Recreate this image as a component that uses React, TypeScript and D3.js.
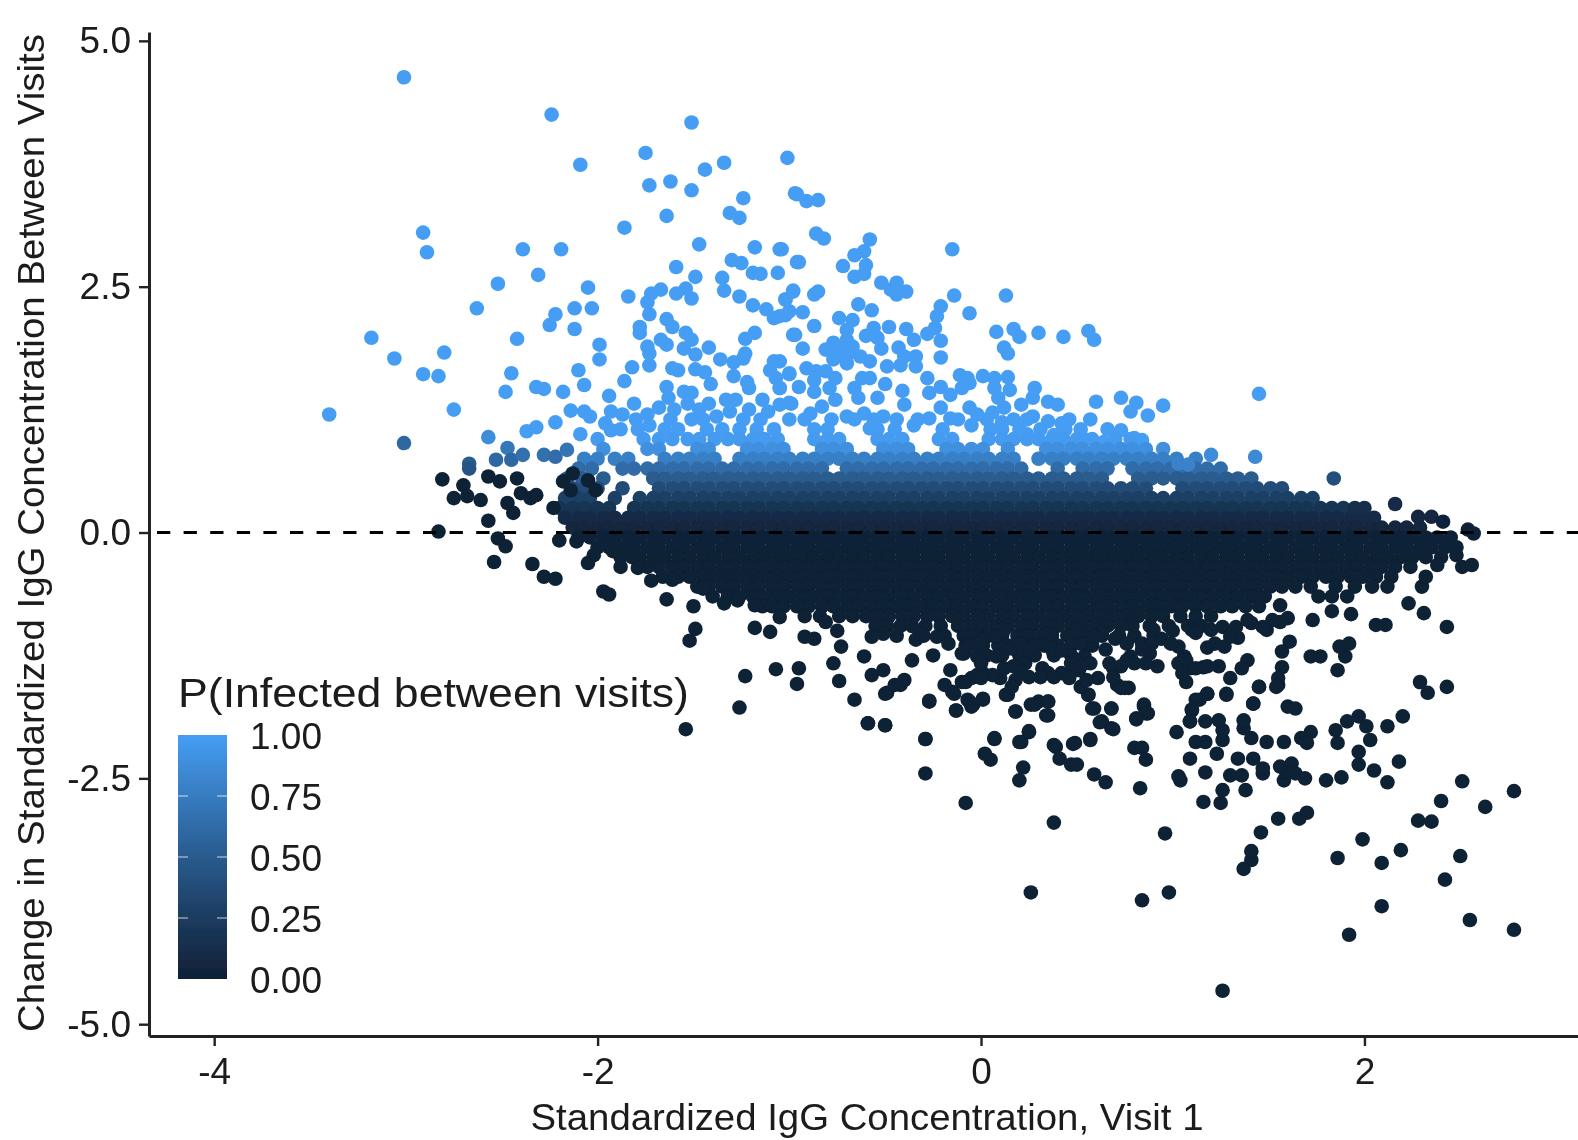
import { useEffect, useRef } from 'react';
import * as d3 from 'd3';

const FONT = '"Liberation Sans", Arial, sans-serif';

const xTicks = [-4, -2, 0, 2];
const yTicks = [-5, -2.5, 0, 2.5, 5];
const legendTicks = [0, 0.25, 0.5, 0.75, 1];
const xTitle = 'Standardized IgG Concentration, Visit 1';
const yTitle = 'Change in Standardized IgG Concentration Between Visits';
const legendTitle = 'P(Infected between visits)';

// points above the dense band, P close to 1
const upperPoints = [
  [-3.01,4.63],[-2.24,4.25],[-1.51,4.17],[-2.09,3.74],[-1.75,3.86],[-1.44,3.69],[-1.34,3.76],[-1.01,3.81],[-1.73,3.53],[-1.62,3.57],
  [-1.51,3.48],[-.97,3.45],[-1.24,3.40],[-1.31,3.25],[-1.26,3.20],[-1.64,3.22],[-1.86,3.10],[-2.91,3.05],[-2.89,2.85],[-2.39,2.88],
  [-2.19,2.88],[-1.47,2.93],[-1.18,2.90],[-1.05,2.88],[-.96,2.75],[-1.59,2.70],[-2.31,2.62],[-2.52,2.53],[-1.30,2.77],[-1.25,2.74],
  [-1.35,2.59],[-1.34,2.46],[-1.19,2.64],[-1.15,2.63],[-1.06,2.64],[-1.49,2.60],[-1.54,2.48],[-1.59,2.43],[-1.51,2.38],[-1.67,2.47],
  [-1.72,2.43],[-1.74,2.34],[-1.73,2.22],[-2.05,2.49],[-1.84,2.40],[-1.26,2.40],[-1.19,2.31],[-1.12,2.27],[-1.08,2.18],[-1.02,2.21],
  [-.98,2.46],[-1.02,2.37],[-2.12,2.28],[-2.03,2.28],[-2.22,2.22],[-2.25,2.11],[-2.12,2.07],[-2.63,2.28],[-3.18,1.98],[-3.06,1.77],
  [-2.80,1.83],[-2.91,1.61],[-2.83,1.59],[-2.42,1.97],[-1.99,1.91],[-1.99,1.76],[-1.78,2.09],[-1.78,2.03],[-1.64,2.17],[-1.61,2.09],
  [-1.54,2.03],[-1.51,1.96],[-1.67,1.96],[-1.64,1.91],[-1.74,1.89],[-1.73,1.82],[-1.73,1.70],[-1.55,1.87],[-1.49,1.81],[-1.42,1.88],
  [-1.36,1.76],[-1.29,1.73],[-1.24,1.77],[-1.23,1.82],[-1.23,1.97],[-1.18,2.03],[-.98,2.01],[-1.82,1.68],[-1.86,1.54],[-2.10,1.65],
  [-2.45,1.62],[-2.07,1.50],[-2.48,1.43],[-2.32,1.48],[-2.28,1.46],[-2.18,1.43],[-1.94,1.39],[-1.61,1.67],[-1.58,1.65],[-1.49,1.66],
  [-1.44,1.63],[-1.41,1.51],[-1.29,1.59],[-1.22,1.53],[-1.21,1.47],[-1.08,1.74],[-1.10,1.65],[-1.07,1.57],[-1.05,1.47],[-1.00,1.62],
  [-1.64,1.48],[-1.63,1.37],[-1.68,1.27],[-1.60,1.25],[-1.55,1.43],[-1.51,1.42],[-1.53,1.31],[-1.14,1.35],[-1.11,1.23],[-1.21,1.25],
  [-1.05,1.30],[-.99,1.31],[-1.81,1.31],[-1.87,1.20],[-1.93,1.23],[-1.74,1.20],[-1.73,1.09],[-1.96,1.11],[-1.93,1.04],[-1.42,1.31],
  [-1.33,1.35],[-1.28,1.35],[-1.47,1.25],[-1.51,1.15],[-1.38,1.18],[-1.31,1.23],[-2.14,1.24],[-2.07,1.23],[-2.04,1.18],[-2.75,1.25],
  [-3.40,1.20],[-2.22,1.12],[-2.32,1.07],[-2.37,1.03],[-2.09,1.00],[-.96,3.44],[-.91,3.37],[-.85,3.38],[-.86,3.04],[-.82,2.99],
  [-.58,2.98],[-.61,2.86],[-.66,2.82],[-.72,2.71],[-.60,2.72],[-.61,2.63],[-.66,2.60],[-1.04,2.88],[-.95,2.75],[-.15,2.88],
  [-.52,2.54],[-.44,2.54],[-.47,2.47],[-.44,2.42],[-.39,2.45],[-.85,2.45],[-.87,2.42],[-.98,2.45],[-.14,2.41],[.13,2.41],
  [-1.02,2.37],[-.21,2.30],[-.23,2.20],[-.06,2.23],[-.64,2.32],[-.57,2.26],[-.93,2.24],[-1.00,2.25],[-1.05,2.20],[-.74,2.18],
  [-.67,2.16],[-.70,2.06],[-.87,2.10],[-.97,2.01],[-.93,1.87],[-.48,2.09],[-.56,2.08],[-.60,2.00],[-.54,1.98],[-.52,1.87],
  [-.39,2.07],[-.35,1.96],[-.28,2.02],[-.24,2.08],[-.21,1.95],[-.21,1.78],[.08,2.04],[.17,2.07],[.20,1.99],[.12,1.88],
  [.14,1.82],[.30,2.03],[.43,1.99],[.56,2.05],[.59,1.96],[-.77,1.93],[-.70,1.96],[-.81,1.86],[-.74,1.86],[-.67,1.89],
  [-.77,1.76],[-.70,1.72],[-.63,1.79],[-.58,1.74],[-.74,1.80],[-.69,1.82],[-.43,1.88],[-.40,1.79],[-.49,1.69],[-.42,1.70],
  [-.34,1.79],[-.34,1.69],[-.91,1.67],[-.86,1.64],[-.81,1.64],[-1.00,1.61],[-1.05,1.74],[-.76,1.57],[-.87,1.55],[-.95,1.48],
  [-.87,1.43],[-1.05,1.47],[-.62,1.57],[-.58,1.57],[-.66,1.47],[-.79,1.47],[-.76,1.35],[-.64,1.37],[-.50,1.51],[-.41,1.44],
  [-.40,1.30],[-.54,1.37],[-.28,1.57],[-.21,1.48],[-.27,1.42],[-.11,1.60],[-.07,1.57],[-.06,1.52],[-.10,1.47],[-.16,1.40],
  [.01,1.59],[.07,1.57],[.14,1.58],[.07,1.47],[.15,1.45],[.09,1.37],[.28,1.47],[.27,1.37],[.21,1.30],[.35,1.33],
  [.40,1.30],[.60,1.33],[.73,1.37],[.81,1.32],[.78,1.23],[.87,1.19],[.95,1.29],[1.45,1.41],[.57,1.15],[.42,1.11],
  [.35,1.13],[.27,1.18],[.17,1.15],[.11,1.12],[.06,1.22],[.12,1.27],[-.06,1.27],[-.02,1.20],[-.21,1.27],[-.27,1.16],
  [-.16,1.16],[-.51,1.18],[-.83,1.28],[-.89,1.21],[-1.00,1.32],[-.70,1.18],[-.61,1.21],[.73,1.04],[.80,.96],[.84,.94],
  [.64,.92],[.24,1.00],[.53,.96],[.49,.91],[.38,.99],[.40,.91],[-.05,1.09],[-.35,1.09],[-.58,1.06],
];

// points below the dense band, P close to 0
const lowerPoints = [
  [1.26,-4.66],[2.78,-4.04],[2.55,-3.94],[1.92,-4.09],[2.09,-3.80],[.26,-3.66],[.84,-3.74],[.98,-3.66],[2.42,-3.53],[2.50,-3.29],
  [2.19,-3.23],[2.09,-3.36],[1.86,-3.31],[1.99,-3.12],[1.37,-3.42],[1.41,-3.33],[1.41,-3.24],[.96,-3.06],[.38,-2.95],[1.46,-3.05],
  [1.55,-2.91],[1.66,-2.91],[1.70,-2.85],[2.28,-2.93],[2.35,-2.94],[2.40,-2.73],[2.63,-2.79],[2.78,-2.63],[2.51,-2.53],[-.08,-2.75],
  [1.16,-2.74],[1.25,-2.75],[1.26,-2.62],[1.38,-2.62],[.83,-2.60],[.65,-2.54],[.59,-2.46],[.20,-2.52],[.22,-2.39],[-.29,-2.45],
  [-.29,-2.10],[.05,-2.31],[.02,-2.25],[.07,-2.10],[.21,-2.13],[.25,-2.03],[1.04,-2.52],[1.03,-2.48],[1.17,-2.44],[1.30,-2.47],
  [1.36,-2.47],[1.47,-2.45],[1.47,-2.40],[1.42,-2.30],[1.34,-2.30],[1.09,-2.30],[1.23,-2.25],[1.58,-2.52],[1.59,-2.43],[1.56,-2.38],
  [1.62,-2.35],[1.64,-2.45],[1.69,-2.50],[1.80,-2.52],[1.88,-2.49],[2.12,-2.54],[2.05,-2.42],[1.97,-2.36],[1.97,-2.23],[2.18,-2.33],
  [1.86,-2.14],[1.85,-2.01],[1.91,-1.92],[1.97,-1.87],[2.01,-1.97],[2.03,-2.11],[2.12,-1.97],[2.20,-1.87],[1.72,-2.03],[1.67,-2.09],
  [1.70,-2.14],[1.58,-2.13],[1.49,-2.13],[1.41,-2.09],[1.37,-1.99],[1.37,-1.91],[1.60,-1.77],[1.64,-1.79],[1.42,-1.74],[1.45,-1.57],
  [1.55,-1.55],[1.26,-2.11],[1.26,-2.01],[1.24,-1.91],[1.17,-1.92],[1.12,-2.13],[1.17,-2.13],[1.02,-2.03],[1.09,-1.92],[1.10,-1.81],
  [1.14,-1.70],[1.18,-1.64],[1.28,-1.64],[.80,-2.19],[.84,-2.19],[.86,-2.31],[.81,-1.89],[.85,-1.77],[.87,-1.84],[.68,-1.99],
  [.63,-1.92],[.68,-1.79],[.59,-1.79],[.56,-1.65],[.39,-2.18],[.41,-2.30],[.47,-2.36],[.50,-2.36],[.48,-2.15],[.57,-2.10],
  [.34,-1.86],[.35,-1.72],[.28,-1.75],[.18,-1.82],[.13,-1.65],[.01,-1.70],[-.06,-1.72],[-.05,-1.77],[-.13,-1.81],[-.27,-1.72],
  [-.59,-1.94],[-.50,-1.96],[-.49,-1.63],[-.42,-1.55],[-.15,-1.62],[1.86,-1.40],[1.90,-1.26],[1.92,-1.13],[1.87,-1.16],[1.72,-1.26],
  [1.77,-1.26],[2.43,-1.57],[2.29,-1.52],[2.33,-1.63],[2.43,-.96],[2.31,-.82],[2.23,-.72],[2.06,-.94],[2.11,-.94],[1.93,-.83],
  [1.83,-.80],[1.73,-.89],[1.91,-.65],[2.30,-.55],[2.32,-.45],[2.38,-.33],[2.51,-.35],[2.56,-.33],[2.48,-.23],[1.61,-1.11],
  [1.57,-1.21],[1.57,-1.37],[1.55,-1.48],[1.54,-1.57],[1.45,-1.57],[1.42,-1.74],[1.60,-.87],[1.56,-.74],[1.56,-.91],[1.49,-.99],
  [1.41,-.92],[1.34,-1.07],[1.27,-1.16],[1.18,-1.17],[1.39,-1.30],[1.36,-1.38],[1.30,-1.48],[1.28,-1.65],[1.24,-1.36],[1.16,-1.37],
  [1.09,-1.38],[1.07,-1.52],[1.18,-1.64],[1.12,-1.70],[1.10,-1.80],[1.09,-1.92],[.92,-1.36],[.88,-1.23],[.94,-1.08],[.90,-.99],
  [1.06,-1.26],[.78,-1.26],[.69,-1.38],[.71,-1.55],[.77,-1.58],[.65,-1.19],[.70,-1.08],[.85,-1.75],[.86,-1.84],[.81,-1.90],
  [.68,-1.79],[.62,-1.93],[.69,-2.00],[.58,-1.79],[.56,-1.65],[.52,-1.57],[.61,-1.48],[.55,-1.50],[.48,-1.41],[.54,-1.26],
  [.55,-1.13],[.35,-1.43],[.42,-1.43],[.25,-1.47],[.30,-1.72],[.35,-1.72],[.35,-1.86],[.26,-1.75],[.18,-1.82],[.14,-1.65],
  [.18,-1.50],[.10,-1.48],[.01,-1.43],[-.05,-1.48],[-.10,-1.52],[.01,-1.69],[-.04,-1.75],[-.09,-1.23],[0,-1.21],[0,-1.09],
  [.16,-1.18],[.24,-1.21],[.37,-1.19],[.07,-2.09],[.25,-2.02],[.20,-2.13],[.38,-2.16],[.49,-2.14],[.57,-2.11],[-2.83,.01],
  [-2.81,.54],[-2.70,.48],[-2.75,.35],[-2.68,.37],[-2.61,.33],[-2.57,.57],[-2.51,.52],[-2.42,.55],[-2.57,.12],[-2.47,.30],
  [-2.44,.20],[-2.40,.40],[-2.35,.35],[-2.32,.38],[-2.52,-.06],[-2.48,-.14],[-2.54,-.30],[-2.20,-.08],[-2.11,-.09],[-2.34,-.32],
  [-2.28,-.45],[-2.22,-.47],[-2.02,-.23],[-2.05,-.31],[-1.97,-.60],[-1.94,-.63],[-1.92,-.19],[-1.88,-.35],[-1.79,-.36],[-1.72,-.49],
  [-1.61,-.48],[-1.64,-.68],[-1.50,-.75],[-1.49,-.98],[-1.52,-1.10],[-1.45,-.57],[-1.34,-.72],[-1.27,-.69],[-1.18,-.74],[-1.05,-.86],
  [-1.18,-.97],[-1.10,-1.01],[-.92,-1.06],[-.87,-1.08],[-.81,-.91],[-.73,-1.16],[-.75,-1.00],[-1.23,-1.46],[-1.07,-1.39],[-.95,-1.38],
  [-.96,-1.54],[-.77,-1.33],[-.74,-1.51],[-1.54,-2.00],[-1.26,-1.78],[-.66,-1.70],[-.59,-1.94],[-.50,-1.96],[-.29,-2.10],[-.61,-1.26],
  [-.57,-1.06],[-.51,-1.03],[-.57,-1.45],[-.51,-1.40],[-.50,-1.64],[-.45,-1.55],[-.40,-1.50],[-.27,-1.71],[-.13,-1.81],[-.36,-1.30],
  [-.25,-1.25],[-.34,-1.09],[-.23,-1.06],[-.10,-1.23],[-.16,-1.40],[-.19,-1.55],[-.08,-1.52],[-.14,-1.64],[-.07,-1.70],[-.02,-1.45],
  [-2.23,.25],[-2.18,.52],[-2.13,.60],[-2.05,.53],[-2.14,.43],[-2.01,.43],
  [-.05,-1.06],[.08,-1.06],[.21,-1.13],[.33,-1.13],[.50,-.99],[.63,-1.02],[.76,-1.13],[.84,-1.13],[1.00,-1.00],[1.03,-1.16],
  [1.07,-1.30],[1.10,-.99],[1.20,-.99],[1.26,-.96],[1.33,-.96],[1.47,-.96],[.73,-1.36],[.76,-1.30],[.57,-1.33],[.51,-1.40],
  [.46,-1.48],[.32,-1.38],[.12,-1.38],[.06,-1.45],[.17,-1.36],[0,-1.33],[.08,-1.26],[.23,-1.33],[.42,-1.20],[.49,-1.30],
  [.73,-1.58],[.75,-1.58],[.89,-1.13],[.86,-1.33],[-.32,-1.03],[-.17,-1.13],[-.06,-1.13],[-.02,-1.26],
  [-.07,-1.16],[-.02,-1.13],[.12,-.99],[.27,-1.16],[.36,-1.03],[.52,-1.13],[.59,-1.06],[.67,-1.33],[.80,-1.33],[.84,-1.19],
  [.99,-1.13],[1.03,-1.33],[1.12,-1.02],[1.22,-1.13],[1.30,-1.06],[1.39,-.89],[1.52,-.89],[1.05,-1.43],[1.12,-1.38],[1.18,-1.36],
  [.21,-1.41],[.31,-1.47],[.38,-1.47],[.47,-1.33],[.52,-1.36],[.69,-1.47],[.16,-1.57],[0,-1.48],
];

// points on the fading edge: x, y, P as judged from the colour
const edgePoints = [
  [-3.01,.91,.6],[-2.57,.97,.88],[-2.47,.86,.72],[-2.53,.74,.6],[-2.45,.74,.6],[-2.39,.79,.66],[-2.28,.79,.66],[-2.22,.77,.64],
  [-2.16,.84,.7],[-2.67,.70,.5],[-2.67,.65,.45],[1.03,.70,.8],[1.08,.69,.8],[1.20,.79,.88],[1.43,.77,.85],[1.84,.55,.4],
  [2.16,.29,.1],[2.00,.25,.12],[1.95,.25,.12],[2.28,.16,.06],[2.35,.16,.06],[2.41,.11,.04],[2.54,.03,.02],[2.57,-.01,.01],
];

// dense band, laid out row by row from its outline: the marks overlap too much to separate one by one
const rowY = [1.15,1.05,.95,.85,.75,.65,.55,.45,.35,.25,.15,.05,-.05,-.15,-.25,-.35,-.45,-.55,-.65,-.75,-.85,-.95,-1.05,-1.15,-1.25];
const rowP = [1,1,.98,.9,.78,.63,.5,.38,.28,.18,.11,.05,.02,.01,0,0,0,0,0,0,0,0,0,0,0];
const rowXs = [
  [-1.8,-1.62,-1.45,-1.24,-1.15,-1,-.92,-.78,-.66,-.56,-.44,-.33,-.12,.03,.24,.46],
  [-1.88,-1.79,-1.65,-1.58,-1.43,-1.35,-1.26,-1.17,-1.08,-.87,-.8,-.54,-.45,-.2,.05,.11,.2,.31,.44,.52,.66],
  [-2,-1.76,-1.68,-1.61,-1.53,-1.47,-1.39,-1.32,-1.26,-1.19,-1.13,-1.06,-.87,-.8,-.74,-.54,-.48,-.41,-.22,-.15,.04,.11,.17,.24,.3,.37,.43,.5,.58,.7,.78],
  [-1.97,-1.74,-1.68,-1.48,-1.42,-1.22,-1.16,-1.09,-1.03,-.83,-.77,-.7,-.51,-.44,-.38,-.18,-.12,-.05,.01,.14,.34,.4,.47,.53,.6,.66,.73,.79,.86,.95],
  [-2.07,-2,-1.91,-1.84,-1.65,-1.58,-1.52,-1.45,-1.39,-1.26,-1.19,-1.13,-1.06,-1,-.93,-.87,-.8,-.74,-.67,-.61,-.54,-.48,-.41,-.35,-.28,-.22,-.15,-.09,-.02,.04,.11,.17,.3,.37,.43,.5,.56,.63,.69,.76,.82,.89,.95,1.02,1.12],
  [-2.1,-2.03,-1.87,-1.81,-1.74,-1.68,-1.61,-1.55,-1.48,-1.42,-1.35,-1.29,-1.22,-1.16,-1.09,-1.03,-.96,-.9,-.83,-.7,-.64,-.57,-.51,-.44,-.38,-.31,-.25,-.18,-.12,-.05,.01,.08,.14,.21,.4,.53,.6,.66,.79,.86,.92,.99,1.05,1.12,1.18,1.25],
  [-2.16,-2.08,-1.97,-1.71,-1.65,-1.58,-1.52,-1.45,-1.39,-1.32,-1.26,-1.19,-1.13,-1.06,-1,-.93,-.87,-.8,-.74,-.67,-.61,-.54,-.48,-.41,-.35,-.28,-.22,-.15,-.09,-.02,.04,.11,.17,.24,.3,.37,.43,.5,.56,.63,.82,.89,.95,1.02,1.08,1.15,1.21,1.28,1.34,1.41],
  [-2.13,-2.07,-2,-1.87,-1.68,-1.61,-1.55,-1.48,-1.42,-1.35,-1.29,-1.22,-1.16,-1.09,-1.03,-.96,-.9,-.83,-.77,-.7,-.64,-.57,-.51,-.44,-.38,-.31,-.25,-.18,-.12,-.05,.01,.08,.14,.21,.27,.34,.4,.47,.53,.6,.66,.73,.79,.86,1.05,1.12,1.18,1.25,1.31,1.38,1.44,1.51,1.57],
  [-2.17,-2.1,-2.04,-1.91,-1.78,-1.71,-1.65,-1.58,-1.52,-1.45,-1.39,-1.32,-1.26,-1.19,-1.13,-1.06,-1,-.93,-.87,-.8,-.74,-.67,-.61,-.54,-.48,-.41,-.35,-.28,-.22,-.15,-.09,-.02,.04,.11,.17,.24,.3,.37,.43,.5,.56,.63,.69,.76,.82,.89,.95,1.02,1.08,1.15,1.21,1.28,1.34,1.41,1.47,1.54,1.6,1.67,1.73],
  [-2.2,-2.13,-2.07,-2,-1.94,-1.81,-1.74,-1.68,-1.61,-1.55,-1.48,-1.42,-1.35,-1.29,-1.22,-1.16,-1.09,-1.03,-.96,-.9,-.83,-.77,-.7,-.64,-.57,-.51,-.44,-.38,-.31,-.25,-.18,-.12,-.05,.01,.08,.14,.21,.27,.34,.4,.47,.53,.6,.66,.73,.79,.86,.92,.99,1.05,1.12,1.18,1.25,1.31,1.38,1.44,1.51,1.57,1.64,1.7,1.77,1.83,1.89],
  [-2.17,-2.1,-2.04,-1.97,-1.91,-1.84,-1.78,-1.71,-1.65,-1.58,-1.52,-1.45,-1.39,-1.32,-1.26,-1.19,-1.13,-1.06,-1,-.93,-.87,-.8,-.74,-.67,-.61,-.54,-.48,-.41,-.35,-.28,-.22,-.15,-.09,-.02,.04,.11,.17,.24,.3,.37,.43,.5,.56,.63,.69,.76,.82,.89,.95,1.02,1.08,1.15,1.21,1.28,1.34,1.41,1.47,1.54,1.6,1.67,1.73,1.8,1.86,1.93,1.99,2.05],
  [-2.13,-2.07,-2,-1.94,-1.87,-1.81,-1.74,-1.68,-1.61,-1.55,-1.48,-1.42,-1.35,-1.29,-1.22,-1.16,-1.09,-1.03,-.96,-.9,-.83,-.77,-.7,-.64,-.57,-.51,-.44,-.38,-.31,-.25,-.18,-.12,-.05,.01,.08,.14,.21,.27,.34,.4,.47,.53,.6,.66,.73,.79,.86,.92,.99,1.05,1.12,1.18,1.25,1.31,1.38,1.44,1.51,1.57,1.64,1.7,1.77,1.83,1.9,1.96,2.03,2.09,2.16,2.22,2.29],
  [-2.1,-2.04,-1.97,-1.91,-1.84,-1.78,-1.71,-1.65,-1.58,-1.52,-1.45,-1.39,-1.32,-1.26,-1.19,-1.13,-1.06,-1,-.93,-.87,-.8,-.74,-.67,-.61,-.54,-.48,-.41,-.35,-.28,-.22,-.15,-.09,-.02,.04,.11,.17,.24,.3,.37,.43,.5,.56,.63,.69,.76,.82,.89,.95,1.02,1.08,1.15,1.21,1.28,1.34,1.41,1.47,1.54,1.6,1.67,1.73,1.8,1.86,1.93,1.99,2.06,2.12,2.19,2.25,2.32,2.38,2.45],
  [-2,-1.94,-1.87,-1.81,-1.74,-1.68,-1.61,-1.55,-1.48,-1.42,-1.35,-1.29,-1.22,-1.16,-1.09,-1.03,-.96,-.9,-.83,-.77,-.7,-.64,-.57,-.51,-.44,-.38,-.31,-.25,-.18,-.12,-.05,.01,.08,.14,.21,.27,.34,.4,.47,.53,.6,.66,.73,.79,.86,.92,.99,1.05,1.12,1.18,1.25,1.31,1.38,1.44,1.51,1.57,1.64,1.7,1.77,1.83,1.9,1.96,2.03,2.09,2.16,2.22,2.29,2.35,2.42,2.48],
  [-1.88,-1.82,-1.78,-1.71,-1.65,-1.58,-1.52,-1.45,-1.39,-1.32,-1.26,-1.19,-1.13,-1.06,-1,-.93,-.87,-.8,-.74,-.67,-.61,-.54,-.48,-.41,-.35,-.28,-.22,-.15,-.09,-.02,.04,.11,.17,.24,.3,.37,.43,.5,.56,.63,.69,.76,.82,.89,.95,1.02,1.08,1.15,1.21,1.28,1.34,1.41,1.47,1.54,1.6,1.67,1.73,1.8,1.86,1.93,1.99,2.06,2.12,2.19,2.25,2.32,2.4],
  [-1.74,-1.68,-1.61,-1.55,-1.48,-1.42,-1.35,-1.29,-1.22,-1.16,-1.09,-1.03,-.96,-.9,-.83,-.77,-.7,-.64,-.57,-.51,-.44,-.38,-.31,-.25,-.18,-.12,-.05,.01,.08,.14,.21,.27,.34,.4,.47,.53,.6,.66,.73,.79,.86,.92,.99,1.05,1.12,1.18,1.25,1.31,1.38,1.44,1.51,1.57,1.64,1.7,1.77,1.83,1.9,1.96,2.03,2.09,2.16,2.24],
  [-1.66,-1.58,-1.52,-1.45,-1.39,-1.32,-1.26,-1.19,-1.13,-1.06,-1,-.93,-.87,-.8,-.74,-.67,-.61,-.54,-.48,-.41,-.35,-.28,-.22,-.15,-.09,-.02,.04,.11,.17,.24,.3,.37,.43,.5,.56,.63,.69,.76,.82,.89,.95,1.02,1.08,1.15,1.21,1.28,1.34,1.41,1.47,1.54,1.6,1.67,1.73,1.8,1.86,1.93,1.99,2.06,2.14],
  [-1.48,-1.42,-1.35,-1.29,-1.22,-1.16,-1.09,-1.03,-.96,-.9,-.83,-.77,-.7,-.64,-.57,-.51,-.44,-.38,-.31,-.25,-.18,-.12,-.05,.01,.08,.14,.21,.27,.34,.4,.47,.53,.6,.66,.73,.79,.86,.92,.99,1.05,1.12,1.18,1.25,1.31,1.38,1.44,1.51,1.57,1.64,1.72,1.85,1.95,2.04,2.12],
  [-1.4,-1.32,-1.26,-1.19,-1.13,-1.06,-1,-.93,-.87,-.8,-.74,-.67,-.61,-.54,-.48,-.41,-.35,-.28,-.22,-.15,-.09,-.02,.04,.11,.17,.24,.3,.37,.43,.5,.56,.63,.69,.76,.82,.89,.95,1.02,1.08,1.15,1.21,1.28,1.34,1.41,1.48,1.76,1.83],
  [-1.14,-1.09,-1.03,-.96,-.9,-.83,-.77,-.7,-.64,-.57,-.51,-.44,-.38,-.31,-.25,-.18,-.12,-.05,.01,.08,.14,.21,.27,.34,.4,.47,.53,.6,.66,.73,.79,.86,.92,.99,1.05,1.12,1.18,1.25,1.31,1.38,1.45],
  [-.92,-.84,-.74,-.67,-.6,-.54,-.48,-.41,-.35,-.28,-.22,-.15,-.09,-.02,.04,.11,.17,.24,.3,.37,.43,.5,.56,.63,.69,.76,.82,.89,.95,1.04,1.12,1.2],
  [-.55,-.49,-.42,-.36,-.29,-.21,-.12,-.05,.01,.08,.14,.21,.27,.34,.4,.47,.53,.6,.66,.73,.79,.88,.98,1.08,1.15],
  [-.44,-.3,-.19,-.09,-.02,.04,.11,.19,.24,.3,.37,.45,.5,.56,.63,.72,.8,.9],
  [-.08,.01,.09,.14,.26,.33,.4,.47,.58],
  [.03,.11,.2,.28,.38,.47],
];

const colour = d3.scaleLinear<string>().domain([0, 1]).range(['#0f2035', '#459ef4']).interpolate(d3.interpolateLab);

export default function App() {
  const axesRef = useRef<SVGGElement>(null);

  const x = d3.scaleLinear().domain([-4.34, 3.114]).range([149, 1578]);
  const y = d3.scaleLinear().domain([-5.12, 5.09]).range([1036, 32]);
  const legendY = d3.scaleLinear().domain([0, 1]).range([979, 735]);

  useEffect(() => {
    const g = d3.select(axesRef.current);
    g.selectAll('*').remove();

    const xAxis = g.append('g').attr('transform', 'translate(0,1036)')
      .call(d3.axisBottom(x).tickValues(xTicks).tickFormat((d) => String(d)).tickSizeInner(10).tickSizeOuter(0).tickPadding(12));
    const yAxis = g.append('g').attr('transform', 'translate(149,0)')
      .call(d3.axisLeft(y).tickValues(yTicks).tickFormat((d) => (+d).toFixed(1)).tickSizeInner(10).tickSizeOuter(0).tickPadding(8));

    [xAxis, yAxis].forEach((a) => {
      a.attr('font-family', FONT).attr('font-size', 37);
      a.selectAll('path').attr('stroke', '#222').attr('stroke-width', 3);
      a.selectAll('line').attr('stroke', '#222').attr('stroke-width', 2.4);
      a.selectAll('text').attr('fill', '#1a1a1a');
    });
  }, []);

  const gradStops = d3.range(0, 1.01, 0.05);

  return (
    <svg width={1578} height={1140} style={{ position: 'absolute', left: 0, top: 0, display: 'block', background: '#fff' }}>
      <defs>
        <linearGradient id="legendFill" x1="0" y1="1" x2="0" y2="0">
          {gradStops.map((s) => <stop key={s} offset={s} stopColor={colour(s)} />)}
        </linearGradient>
        <filter id="soft" x="0" y="0" width="100%" height="100%">
          <feGaussianBlur stdDeviation="0.7" />
        </filter>
      </defs>

      <g filter="url(#soft)">
        {/* lightest marks go first so the darker rows sit over them */}
        <g fill={colour(1)}>
          {upperPoints.map((d, i) => <circle key={i} cx={x(d[0])} cy={y(d[1])} r={7.3} />)}
        </g>
        {rowXs.map((xs, r) => (
          <g key={r} fill={colour(rowP[r])}>
            {xs.map((v, i) => <circle key={i} cx={x(v)} cy={y(rowY[r])} r={7.3} />)}
          </g>
        ))}
        {edgePoints.map((d, i) => <circle key={i} cx={x(d[0])} cy={y(d[1])} r={7.3} fill={colour(d[2])} />)}
        <g fill={colour(0)}>
          {lowerPoints.map((d, i) => <circle key={i} cx={x(d[0])} cy={y(d[1])} r={7.3} />)}
        </g>

        <line x1={149} x2={1578} y1={y(0)} y2={y(0)} stroke="#000" strokeWidth={2.8} strokeDasharray="13.3 13.3" strokeDashoffset={-8} />

        <g ref={axesRef} />

        <text x={867} y={1130} textAnchor="middle" fontFamily={FONT} fontSize={36} textLength={673} lengthAdjust="spacingAndGlyphs" fill="#1a1a1a">{xTitle}</text>
        <text transform="translate(44,533) rotate(-90)" textAnchor="middle" fontFamily={FONT} fontSize={36} textLength={998} lengthAdjust="spacingAndGlyphs" fill="#1a1a1a">{yTitle}</text>

        <text x={178} y={707} fontFamily={FONT} fontSize={41} textLength={511} lengthAdjust="spacingAndGlyphs" fill="#1a1a1a">{legendTitle}</text>
        <rect x={178} y={legendY(1)} width={49} height={legendY(0) - legendY(1)} fill="url(#legendFill)" />
        {legendTicks.map((t) => (
          <g key={t}>
            {t > 0 && t < 1 && (
              <>
                <line x1={178} x2={188} y1={legendY(t)} y2={legendY(t)} stroke="#fff" strokeOpacity={0.55} strokeWidth={1.4} />
                <line x1={217} x2={227} y1={legendY(t)} y2={legendY(t)} stroke="#fff" strokeOpacity={0.55} strokeWidth={1.4} />
              </>
            )}
            <text x={250} y={legendY(t) + 14} fontFamily={FONT} fontSize={37} fill="#1a1a1a">{t.toFixed(2)}</text>
          </g>
        ))}
      </g>
    </svg>
  );
}
